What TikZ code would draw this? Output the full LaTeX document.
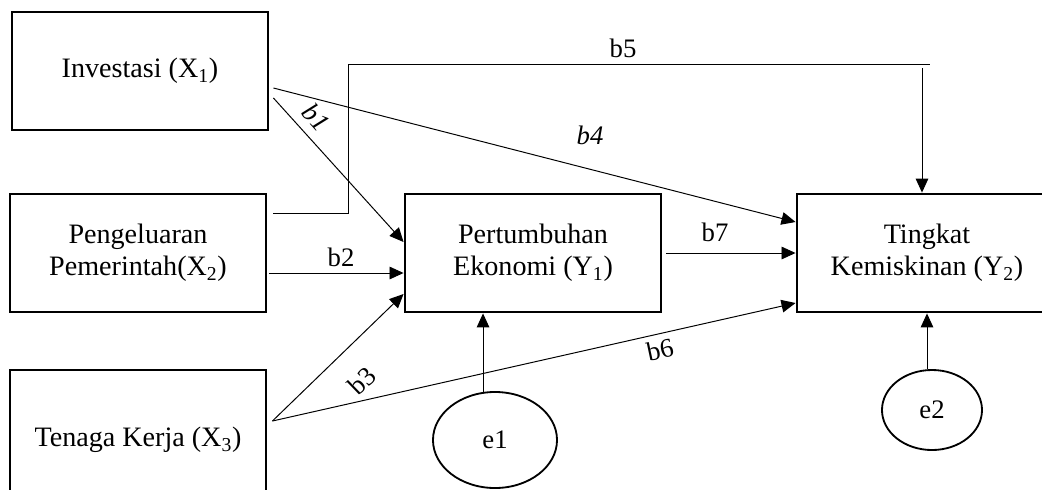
\documentclass[tikz,border=0pt]{standalone}
\usepackage{fontspec}
\setmainfont{Liberation Serif}
\usetikzlibrary{arrows.meta,shapes.geometric}

\begin{document}
\begin{tikzpicture}[x=0.025cm, y=-0.025cm,
	var/.style={draw, line width=2pt, minimum width=6.4cm, minimum height=2.95cm, align=center, font=\fontsize{20}{23}\selectfont},
	err/.style={draw, ellipse, line width=1.3pt, inner sep=0pt, minimum width=3.1cm, minimum height=2.4cm, font=\fontsize{19}{22}\selectfont},
	path/.style={line width=0.7pt, -{Triangle[length=10pt, width=9pt]}},
	coef/.style={inner sep=1pt, font=\fontsize{19}{22}\selectfont}]
	\useasboundingbox (0,0) rectangle (1042,489);
	\clip (0,0) rectangle (1042,489);
	\node [var] (inv) at (140,71) {Investasi (X\textsubscript{1})};
	\node [var] (peng) at (138,253) {Pengeluaran\\Pemerintah(X\textsubscript{2})};
	\node [var, minimum height=3.5cm] (ten) at (138,440) {Tenaga Kerja (X\textsubscript{3})};
	\node [var] (pert) at (533,253) {Pertumbuhan\\Ekonomi (Y\textsubscript{1})};
	\node [var, minimum width=6.5cm] (ting) at (927,253) {Tingkat\\Kemiskinan (Y\textsubscript{2})};
	\node [err] (e1) at (495,440) {e1};
	\node [err, minimum width=2.5cm, minimum height=2cm] (e2) at (932,410) {e2};
	\coordinate (b5turn) at (348,64);
	\coordinate (b5end) at (930,64);
	\coordinate (b5drop) at (922,68);
	\draw [path] ([shift={(4,27)}]inv.east) -- ([shift={(0,-11)}]pert.west);
	\draw [path] ([shift={(4,17)}]inv.east) -- ([shift={(0,-31)}]ting.west);
	\draw [path] ([shift={(2,20)}]peng.east) -- ([shift={(0,20)}]pert.west);
	\draw [line width=0.7pt] ([shift={(6,-40)}]peng.east) -| (b5turn) -- (b5end);
	\draw [path] (b5drop) -- (b5drop |- ting.north);
	\draw [path] ([shift={(5,-19)}]ten.east) -- ([shift={(0,41)}]pert.west);
	\draw [path] ([shift={(5,-19)}]ten.east) -- ([shift={(0,50)}]ting.west);
	\draw [path] ([shift={(4,0)}]pert.east) -- (ting.west);
	\draw [path] (e1.104) -- (e1.104 |- pert.south);
	\draw [path] (e2.97) -- (e2.97 |- ting.south);
	\node [coef, rotate=-48] (lb1) at (316,117) {\itshape b1};
	\node [coef] (lb2) at (341,257) {b2};
	\node [coef, rotate=44] (lb3) at (362,381) {b3};
	\node [coef] (lb4) at (590,135) {\itshape b4};
	\node [coef] (lb5) at (623,48) {b5};
	\node [coef, rotate=12] (lb6) at (660,350) {b6};
	\node [coef] (lb7) at (715,232) {b7};
\end{tikzpicture}
\end{document}
